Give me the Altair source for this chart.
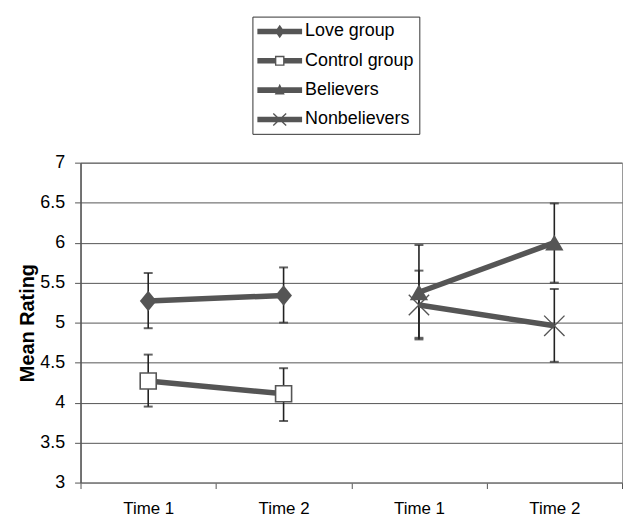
import altair as alt
import pandas as pd

# ---------------- data ----------------
series = ["Love group", "Control group", "Believers", "Nonbelievers"]
slots = ["Love/Control Time 1", "Love/Control Time 2",
         "Believers/Nonbelievers Time 1", "Believers/Nonbelievers Time 2"]
series_slots = {
    "Love group": slots[:2],
    "Control group": slots[:2],
    "Believers": slots[2:],
    "Nonbelievers": slots[2:],
}
love_mean = [5.27, 5.34]
love_hi = [5.62, 5.69]
love_lo = [4.93, 5.00]
control_mean = [4.27, 4.11]
control_hi = [4.60, 4.43]
control_lo = [3.95, 3.77]
believers_mean = [5.38, 6.00]
believers_hi = [5.97, 6.49]
believers_lo = [4.79, 5.50]
nonbelievers_mean = [5.22, 4.96]
nonbelievers_hi = [5.65, 5.42]
nonbelievers_lo = [4.81, 4.51]
y_ticks = [3, 3.5, 4, 4.5, 5, 5.5, 6, 6.5, 7]

vals = {
    "Love group": (love_mean, love_lo, love_hi),
    "Control group": (control_mean, control_lo, control_hi),
    "Believers": (believers_mean, believers_lo, believers_hi),
    "Nonbelievers": (nonbelievers_mean, nonbelievers_lo, nonbelievers_hi),
}
rows = []
for s in series:
    m, lo, hi = vals[s]
    for i, slot in enumerate(series_slots[s]):
        rows.append({"series": s, "slot": slot, "mean": m[i], "lo": lo[i], "hi": hi[i]})
df = pd.DataFrame(rows)

# ---------------- legend symbols (line + marker glyphs) ----------------
def rect(x0, y0, x1, y1):
    return f"M{x0},{y0}H{x1}V{y1}H{x0}Z"

def poly(pts):
    area = 0
    for i in range(len(pts)):
        x1, y1 = pts[i]
        x2, y2 = pts[(i + 1) % len(pts)]
        area += x1 * y2 - x2 * y1
    if area < 0:
        pts = pts[::-1]
    return "M" + "L".join(f"{x:.3f},{y:.3f}" for x, y in pts) + "Z"

def bar(ax, ay, bx, by, t):
    dx, dy = bx - ax, by - ay
    n = (dx * dx + dy * dy) ** 0.5
    px, py = -dy / n * t, dx / n * t
    return poly([(ax + px, ay + py), (bx + px, by + py), (bx - px, by - py), (ax - px, ay - py)])

L0, L1, C, T = -1, 3.5, 1.25, 0.28
line_full = rect(L0, -T, L1, T)
sym_love = line_full + poly([(C, -0.68), (C + 0.47, 0), (C, 0.68), (C - 0.47, 0)])
sq0, sq1, sh, ins = C - 0.48, C + 0.48, 0.5, 0.14
sym_control = (rect(L0, -T, sq0, T) + rect(sq1, -T, L1, T) + rect(sq0, -sh, sq1, sh)
               + f"M{sq0+ins},{-sh+ins}V{sh-ins}H{sq1-ins}V{-sh+ins}Z")
sym_believers = line_full + poly([(C, -0.64), (C + 0.5, 0.44), (C - 0.5, 0.44)])
sym_nonbelievers = (line_full + bar(C - 0.65, -0.6, C + 0.65, 0.6, 0.07)
                    + bar(C - 0.65, 0.6, C + 0.65, -0.6, 0.07))
legend_paths = [sym_love, sym_control, sym_believers, sym_nonbelievers]

# ---------------- chart ----------------
DARK = "#555555"
base = alt.Chart(df).encode(
    x=alt.X("slot:N", scale=alt.Scale(domain=slots, paddingInner=0, paddingOuter=0),
            axis=alt.Axis(title=None, labelExpr="slice(datum.label, -6)", tickBand="extent",
                          labelAngle=0, labelFontSize=17, labelColor="black", labelPadding=12,
                          tickSize=6, tickColor=DARK, domainColor="#888888", grid=False)),
)
ycfg = dict(scale=alt.Scale(domain=[3, 7], nice=False, zero=False))

err_rule = base.mark_rule(color="#222222", strokeWidth=1.6).encode(
    y=alt.Y("lo:Q", **ycfg, axis=alt.Axis(values=y_ticks, format="~g", title="Mean Rating",
                                          titleFontSize=20, titleFontWeight="bold",
                                          titleColor="black", titlePadding=2,
                                          labelFontSize=18, labelColor="black", labelPadding=10,
                                          tickSize=6, tickColor=DARK, domainColor=DARK,
                                          domainWidth=1.5, gridColor="#555555", gridWidth=1)),
    y2="hi:Q",
)
err_lo = base.mark_tick(color="#222222", size=9, thickness=2).encode(y=alt.Y("lo:Q", **ycfg))
err_hi = base.mark_tick(color="#222222", size=9, thickness=2).encode(y=alt.Y("hi:Q", **ycfg))

lines = base.mark_line(color=DARK, strokeWidth=5.5).encode(
    y=alt.Y("mean:Q", **ycfg), detail="series:N")

pts_love = base.transform_filter(alt.datum.series == "Love group").mark_point(
    shape="M0,-1.1L0.9,0L0,1.1L-0.9,0Z", size=350, filled=True, color=DARK, opacity=1
).encode(y=alt.Y("mean:Q", **ycfg))
pts_control = base.transform_filter(alt.datum.series == "Control group").mark_point(
    shape="square", size=260, filled=True, fill="white", stroke=DARK, strokeWidth=1.6, opacity=1
).encode(y=alt.Y("mean:Q", **ycfg))
pts_bel = base.transform_filter(alt.datum.series == "Believers").mark_point(
    shape="triangle-up", size=340, filled=True, color=DARK, opacity=1
).encode(y=alt.Y("mean:Q", **ycfg))
pts_non = base.transform_filter(alt.datum.series == "Nonbelievers").mark_point(
    shape="M-1,-1L1,1M-1,1L1,-1", size=420, filled=False, color=DARK, strokeWidth=1.4, opacity=1
).encode(y=alt.Y("mean:Q", **ycfg))

legend_layer = base.mark_point(filled=True, color=DARK, opacity=0).encode(
    y=alt.Y("mean:Q", **ycfg),
    shape=alt.Shape("series:N", scale=alt.Scale(domain=series, range=legend_paths),
                    legend=alt.Legend(title=None, orient="none", legendX=173, legendY=-147,
                                      padding=5, strokeColor="#333333", fillColor="white",
                                      symbolSize=400, symbolFillColor=DARK, symbolStrokeWidth=0,
                                      symbolOpacity=1, labelOffset=28, rowPadding=10.5,
                                      labelFontSize=18, labelColor="black", labelLimit=300)),
)

chart = alt.layer(
    err_rule, err_lo, err_hi, lines, pts_love, pts_control, pts_bel, pts_non, legend_layer
).properties(
    width=545, height=322,
    padding={"left": 9, "top": 6, "right": 0, "bottom": 0},
).configure(
    font="Liberation Sans",
).configure_view(
    stroke="#999999", strokeWidth=1,
)

chart.save("out.html", embed_options={"renderer": "svg", "actions": False})
